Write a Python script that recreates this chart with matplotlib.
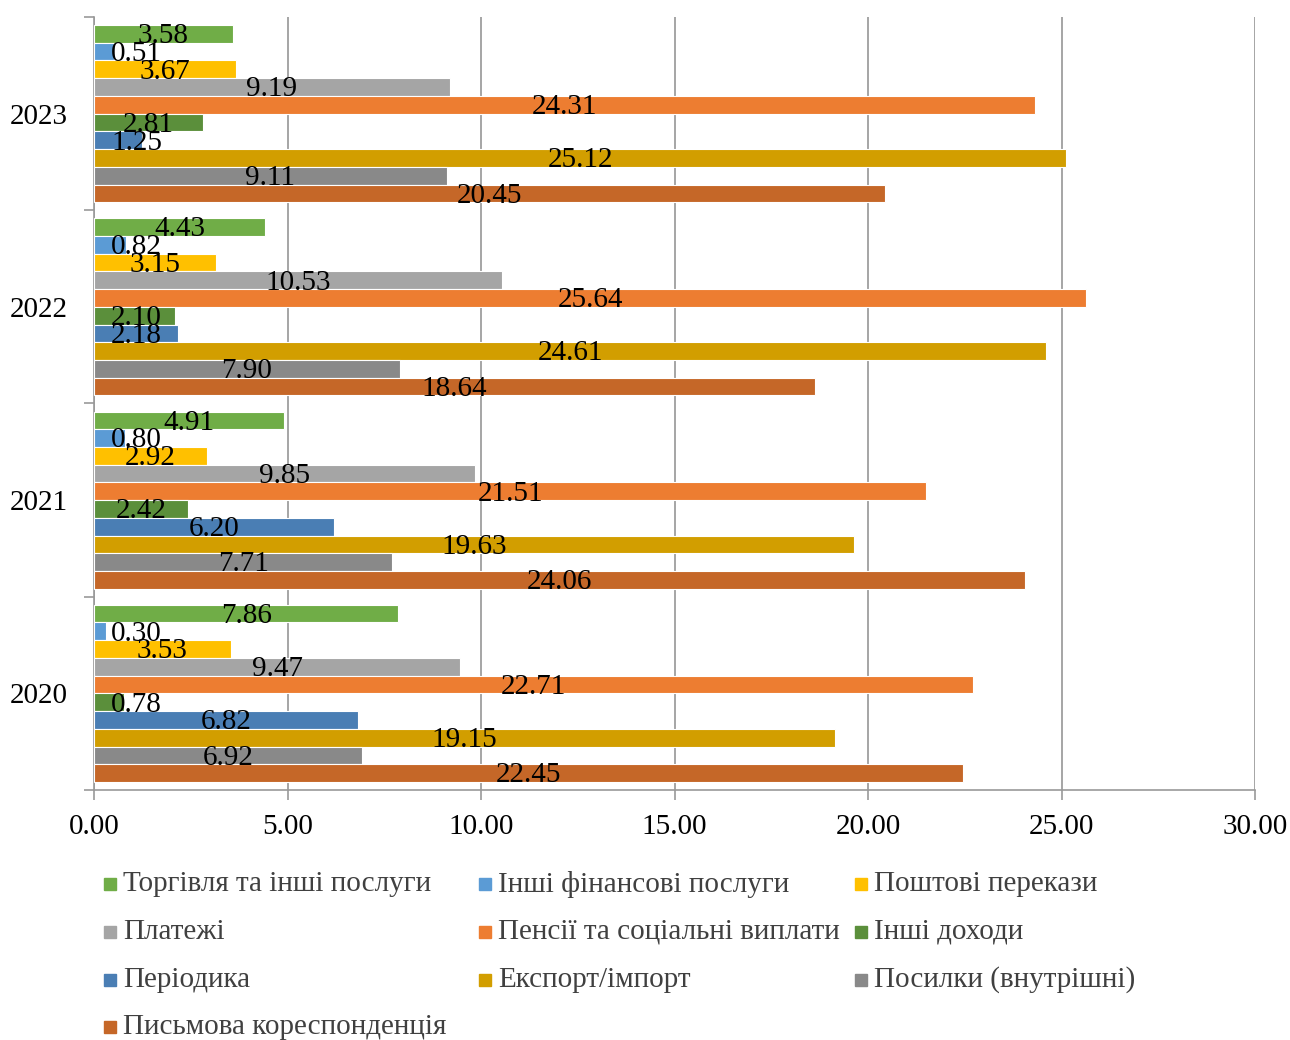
import numpy as np
import matplotlib
matplotlib.use('Agg')
import matplotlib.pyplot as plt
from matplotlib.patches import Rectangle

plt.rcParams['font.family'] = ['Liberation Serif', 'DejaVu Serif']

# ─────────────────────────────────────────────
# DONNÉES (années de bas en haut : 2020 → 2023)
# ─────────────────────────────────────────────
years = ['2020', '2021', '2022', '2023']

series_names = [
    'Торгівля та інші послуги',
    'Інші фінансові послуги',
    'Поштові перекази',
    'Платежі',
    'Пенсії та соціальні виплати',
    'Інші доходи',
    'Періодика',
    'Експорт/імпорт',
    'Посилки (внутрішні)',
    'Письмова кореспонденція',
]

trade       = [7.86, 4.91, 4.43, 3.58]
other_fin   = [0.30, 0.80, 0.82, 0.51]
transfers   = [3.53, 2.92, 3.15, 3.67]
payments    = [9.47, 9.85, 10.53, 9.19]
pensions    = [22.71, 21.51, 25.64, 24.31]
other_inc   = [0.78, 2.42, 2.10, 2.81]
periodicals = [6.82, 6.20, 2.18, 1.25]
export_imp  = [19.15, 19.63, 24.61, 25.12]
parcels     = [6.92, 7.71, 7.90, 9.11]
letters     = [22.45, 24.06, 18.64, 20.45]

values = [trade, other_fin, transfers, payments, pensions,
          other_inc, periodicals, export_imp, parcels, letters]

colors = ['#70AD47', '#5B9BD5', '#FFC000', '#A5A5A5', '#ED7D31',
          '#5B8F3B', '#4A7EB4', '#D29E00', '#898989', '#C56728']

# ─────────────────────────────────────────────
# FIGURE
# ─────────────────────────────────────────────
fig = plt.figure(figsize=(12.9, 10.4), dpi=100)
ax = fig.add_axes([94 / 1290, 1 - 790 / 1040, 1161 / 1290, 773 / 1040])

fs = 21
h = 0.0917
y = np.arange(len(years))

for i, (vals, col, name) in enumerate(zip(values, colors, series_names)):
    pos = y + (4.5 - i) * h
    ax.barh(pos, vals, height=h, color=col, edgecolor='white',
            linewidth=0.8, label=name, zorder=3)
    for p, v in zip(pos, vals):
        # libellé centré, décalé du bord gauche pour les petites valeurs
        ax.text(max(v / 2, 1.1), p - 0.012, f'{v:.2f}', ha='center',
                va='center', fontsize=fs, color='black', zorder=4)

ax.set_xlim(0, 30)
ax.set_ylim(-0.5, 3.5)
ax.set_xticks(np.arange(0, 31, 5))
ax.set_xticklabels([f'{t:.2f}' for t in np.arange(0, 31, 5)], fontsize=fs)
ax.set_yticks(y)
ax.set_yticklabels(years, fontsize=fs)
ax.set_yticks(np.arange(-0.5, 3.6, 1), minor=True)

ax.tick_params(axis='y', which='major', length=0, pad=19)
ax.tick_params(axis='y', which='minor', length=7, color='#999999', width=1.2)
ax.tick_params(axis='x', length=7, color='#999999', width=1.2, pad=10)

ax.grid(axis='x', color='#9E9E9E', linewidth=1.3, zorder=0)
for s in ['top', 'right']:
    ax.spines[s].set_visible(False)
for s in ['left', 'bottom']:
    ax.spines[s].set_color('#999999')
    ax.spines[s].set_linewidth(1.2)

# ─────────────────────────────────────────────
# LÉGENDE (3 colonnes, remplissage par ligne)
# ─────────────────────────────────────────────
col_x = [104, 479, 855]
row_y = [884, 932, 980, 1027]
sq = 12
for k, (name, col) in enumerate(zip(series_names, colors)):
    cx = col_x[k % 3]
    cy = row_y[k // 3]
    fig.add_artist(Rectangle((cx / 1290, 1 - (cy + sq / 2) / 1040),
                             sq / 1290, sq / 1040, color=col,
                             transform=fig.transFigure))
    fig.text((cx + 19) / 1290, 1 - cy / 1040, name, fontsize=fs,
             color='#404040', va='center', ha='left')

plt.savefig('out.png', dpi=100)
